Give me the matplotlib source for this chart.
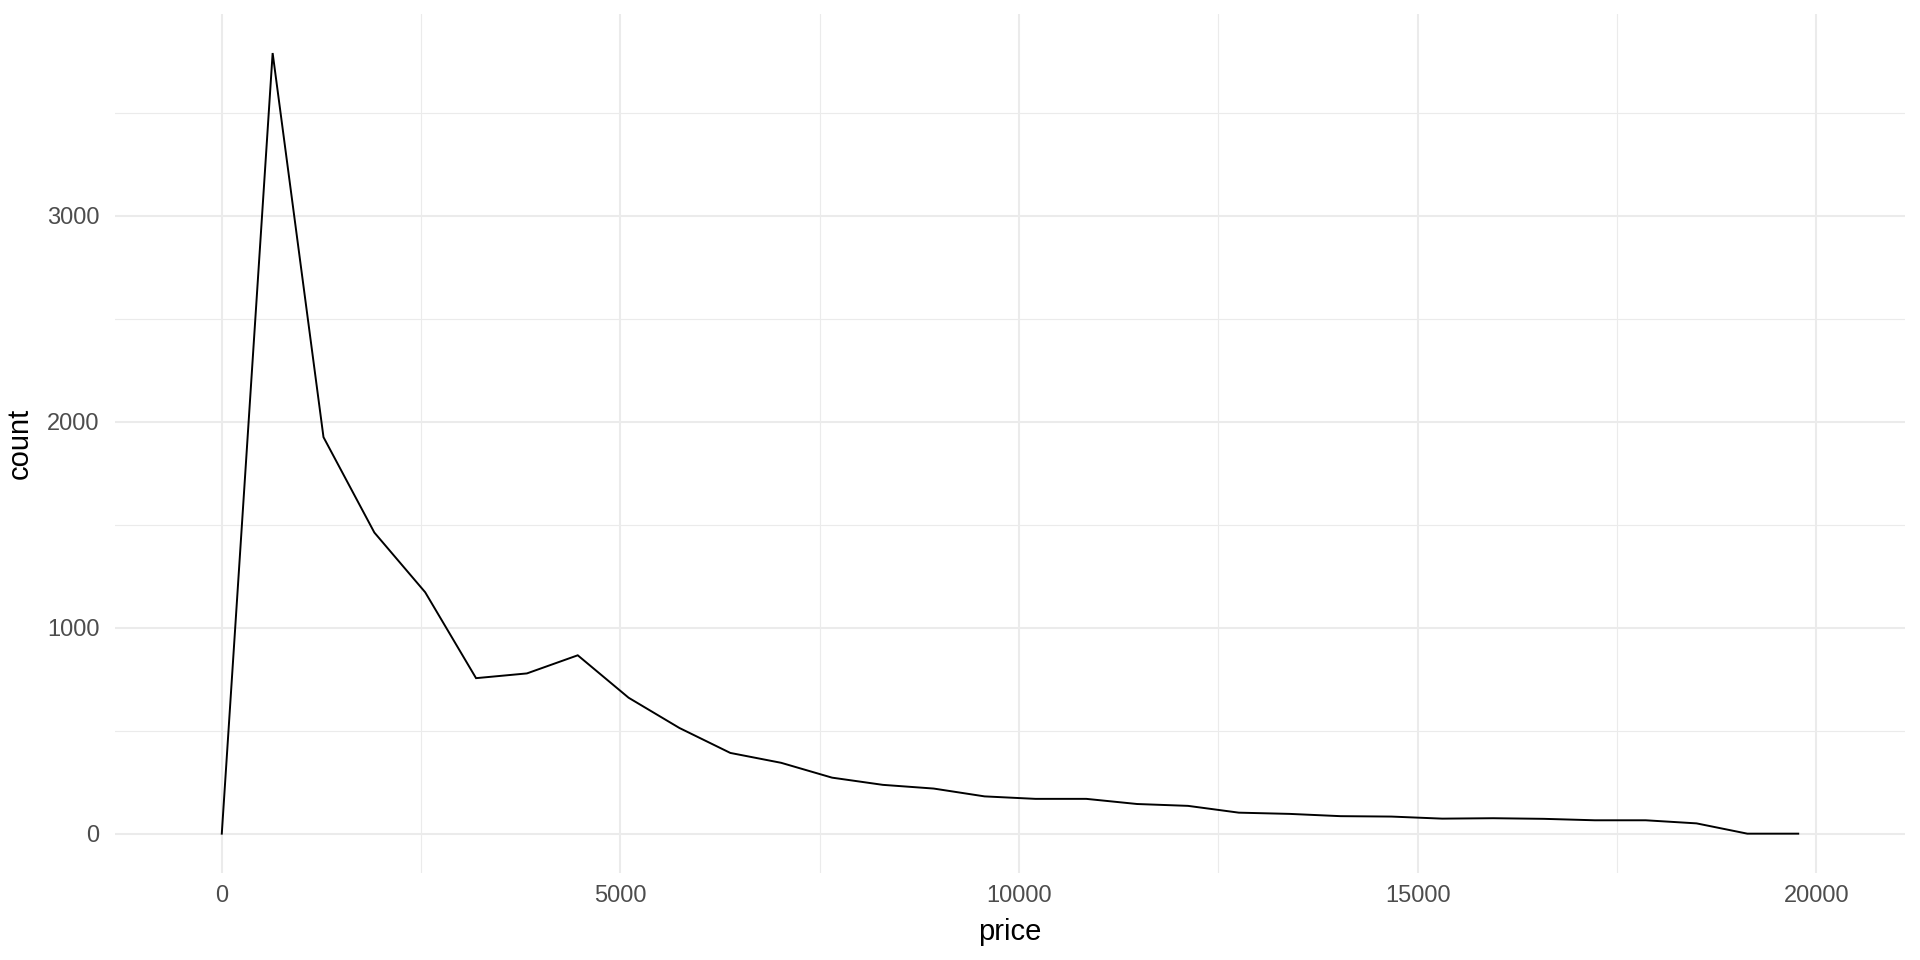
import matplotlib
matplotlib.use("Agg")
import matplotlib.pyplot as plt
from matplotlib.ticker import MultipleLocator
import numpy as np

# frequency polygon of price (30 bins, padded with an empty bin on each side)
binwidth = 637.83
bin_index = np.arange(32)
price = bin_index * binwidth
count = [0, 3790, 1925, 1462, 1172, 755, 778, 866, 660, 513,
         392, 344, 272, 237, 219, 181, 169, 169, 144, 135,
         102, 96, 85, 83, 73, 75, 72, 65, 65, 50,
         0, 0]

x_breaks = [0, 5000, 10000, 15000, 20000]
y_breaks = [0, 1000, 2000, 3000]

plt.rcParams['font.family'] = ['Liberation Sans', 'DejaVu Sans']

fig = plt.figure(figsize=(19.2, 9.6), dpi=100)
ax = fig.add_axes([115/1920, 1 - 872.7/960, (1905 - 115)/1920, (872.7 - 14)/960])

ax.plot(price, count, color="black", linewidth=1.4, solid_joinstyle="miter", zorder=3)

# ggplot trains x on the bin edges too, then expands 5%
xlo, xhi = -binwidth/2, price[-1] + binwidth/2
pad = (xhi - xlo) * 0.05
ax.set_xlim(xlo - pad, xhi + pad)
ypad = max(count) * 0.05
ax.set_ylim(-ypad, max(count) + ypad)

ax.set_xticks(x_breaks)
ax.set_yticks(y_breaks)
ax.xaxis.set_minor_locator(MultipleLocator(2500))
ax.yaxis.set_minor_locator(MultipleLocator(500))
ax.grid(which="major", color="#EBEBEB", linewidth=1.5, zorder=0)
ax.grid(which="minor", color="#EBEBEB", linewidth=0.8, zorder=0)
ax.set_axisbelow(True)

for s in ax.spines.values():
    s.set_visible(False)
ax.tick_params(which="both", length=0)
ax.tick_params(axis="x", pad=9, labelsize=17, labelcolor="#4D4D4D")
ax.tick_params(axis="y", pad=11, labelsize=17, labelcolor="#4D4D4D")

ax.set_xlabel("price", fontsize=21, color="black", labelpad=8)
ax.set_ylabel("count", fontsize=21, color="black", labelpad=10)

fig.savefig("out.png", dpi=100)
